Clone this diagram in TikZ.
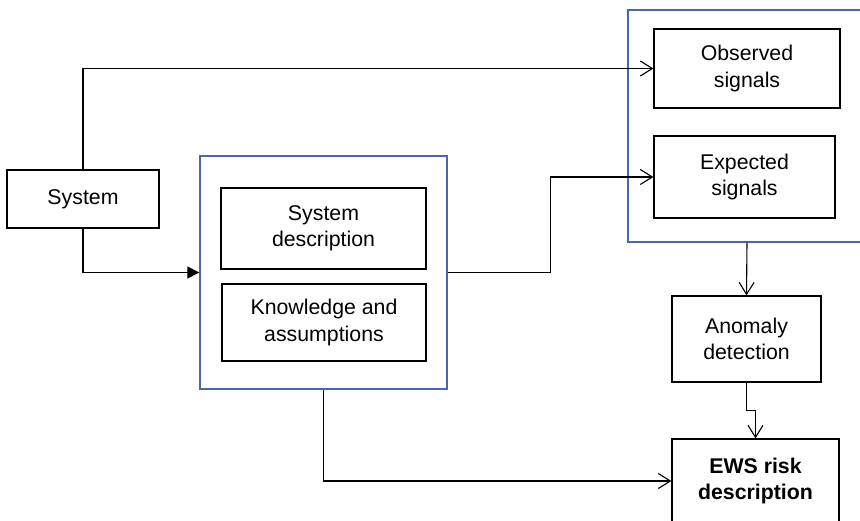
\documentclass[tikz,border=0pt]{standalone}
\usepackage{fontspec}
\setmainfont{Liberation Sans}
\usetikzlibrary{arrows.meta}
\definecolor{grpblue}{RGB}{72,104,168}
\tikzset{
  box/.style={draw=black, line width=1.3pt, rectangle, inner sep=0pt, align=center,
    font=\fontsize{21.3}{26.5}\selectfont},
  grp/.style={draw=grpblue, line width=1.3pt, rectangle, inner sep=0pt},
  conn/.style={draw=black, line width=1.1pt},
  oarrow/.style={conn, -{Straight Barb[length=12pt,width=15pt,line width=1.1pt]}},
  farrow/.style={conn, -{Triangle[length=12pt,width=12pt]}}
}
\begin{document}
\begin{tikzpicture}[x=1pt,y=-1pt]
\useasboundingbox (0,0) rectangle (860,521);
% groups
\node[grp, minimum width=238pt, minimum height=232pt] (grp1) at (747,126) {};
\node[grp, minimum width=247pt, minimum height=233pt] (grp2) at (323.5,272.5) {};
% boxes
\node[box, minimum width=186pt, minimum height=79pt] (obs) at (747,68.5) {Observed\\signals};
\node[box, minimum width=181pt, minimum height=82pt] (exp) at (744.5,177) {Expected\\signals};
\node[box, minimum width=152pt, minimum height=58pt] (sys) at (83,199) {System};
\node[box, minimum width=205pt, minimum height=81pt] (desc) at (323.5,228.5) {System\\description};
\node[box, minimum width=204pt, minimum height=77pt] (know) at (324,322.5) {Knowledge and\\assumptions};
\node[box, minimum width=149pt, minimum height=86pt] (anom) at (746.5,339) {Anomaly\\detection};
\node[box, minimum width=167pt, minimum height=84pt, font=\fontsize{21.3}{26.5}\selectfont\bfseries] (ews) at (755.5,481) {EWS risk\\description};
% connectors
\draw[oarrow] (sys.north) |- (obs.west);
\draw[farrow] (sys.south) |- (grp2.west);
\draw[oarrow] (grp2.east) -- ++(103,0) |- (exp.west);
\draw[oarrow] (grp2.south) |- (ews.west);
\draw[oarrow] (grp1.south) -- (anom.north);
\draw[oarrow] (anom.south) -- ++(0,28) -| (ews.north);
\end{tikzpicture}
\end{document}
